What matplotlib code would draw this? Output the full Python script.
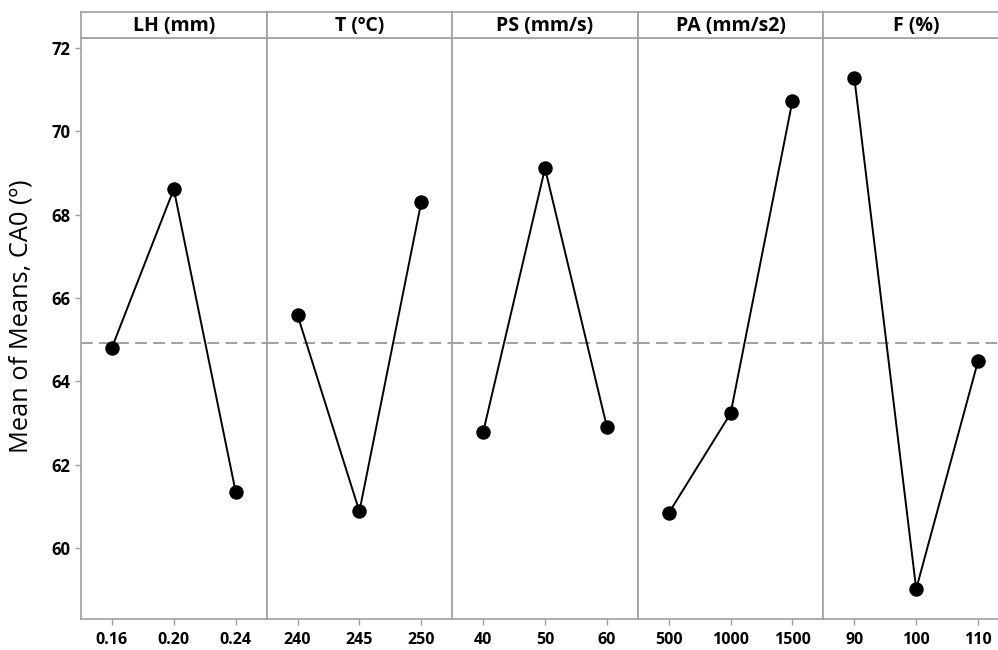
import matplotlib
matplotlib.use("Agg")
import matplotlib.pyplot as plt

# ---- data ----
factors = ["LH (mm)", "T (ºC)", "PS (mm/s)", "PA (mm/s2)", "F (%)"]
level_labels = [
    ["0.16", "0.20", "0.24"],
    ["240", "245", "250"],
    ["40", "50", "60"],
    ["500", "1000", "1500"],
    ["90", "100", "110"],
]
means_LH = [64.81, 68.61, 61.35]
means_T = [65.59, 60.88, 68.30]
means_PS = [62.78, 69.11, 62.91]
means_PA = [60.84, 63.23, 70.73]
means_F = [71.28, 59.02, 64.49]
grand_mean = 64.93
y_ticks = [60, 62, 64, 66, 68, 70, 72]
y_label = "Mean of Means, CA0 (º)"

series = [means_LH, means_T, means_PS, means_PA, means_F]

# ---- layout ----
W, H = 998, 650
dpi = 100
fig = plt.figure(figsize=(W / dpi, H / dpi), dpi=dpi)
plt.rcParams['font.family'] = ['Open Sans', 'DejaVu Sans']

frame_col = "#a0a0a0"
left_px, top_px, bottom_px = 81, 38, 619
panel_w = 185.6
strip_top = 12
ymin, ymax = 58.30, 72.235

axes = []
for i, (name, labels, vals) in enumerate(zip(factors, level_labels, series)):
    x0 = left_px + i * panel_w
    ax = fig.add_axes([x0 / W, 1 - bottom_px / H, panel_w / W, (bottom_px - top_px) / H])
    xs = list(range(len(vals)))
    ax.axhline(grand_mean, color="#999999", lw=1.3, dashes=(6.5, 3.5), zorder=1)
    ax.plot(xs, vals, color="black", lw=1.4, marker="o", ms=9.4,
            markerfacecolor="black", markeredgecolor="black", zorder=3)
    ax.set_xlim(-0.5, len(vals) - 0.5)
    ax.set_ylim(ymin, ymax)
    ax.set_xticks(xs)
    ax.set_xticklabels(labels, fontsize=11.5, fontweight="bold")
    ax.set_yticks(y_ticks)
    if i == 0:
        ax.set_yticklabels([str(t) for t in y_ticks], fontsize=12, fontweight="bold")
    else:
        ax.tick_params(axis="y", left=False, labelleft=False)
    for s in ax.spines.values():
        s.set_color(frame_col)
        s.set_linewidth(1.2)
    ax.tick_params(axis="both", color=frame_col, length=4.5, width=1.0, pad=3)
    ax.tick_params(axis="x", pad=5)
    ax.set_facecolor("white")
    axes.append(ax)

    # strip
    sax = fig.add_axes([x0 / W, 1 - top_px / H, panel_w / W, (top_px - strip_top) / H])
    sax.set_xticks([])
    sax.set_yticks([])
    for s in sax.spines.values():
        s.set_color(frame_col)
        s.set_linewidth(1.2)
    sax.text(0.5, 0.47, name, ha="center", va="center", fontsize=14,
             fontweight="bold", transform=sax.transAxes)

fig.text(21 / W, 1 - 316 / H, y_label, rotation=90, ha="center", va="center",
         fontsize=18.3)

fig.savefig("out.png", dpi=dpi, facecolor="white")
